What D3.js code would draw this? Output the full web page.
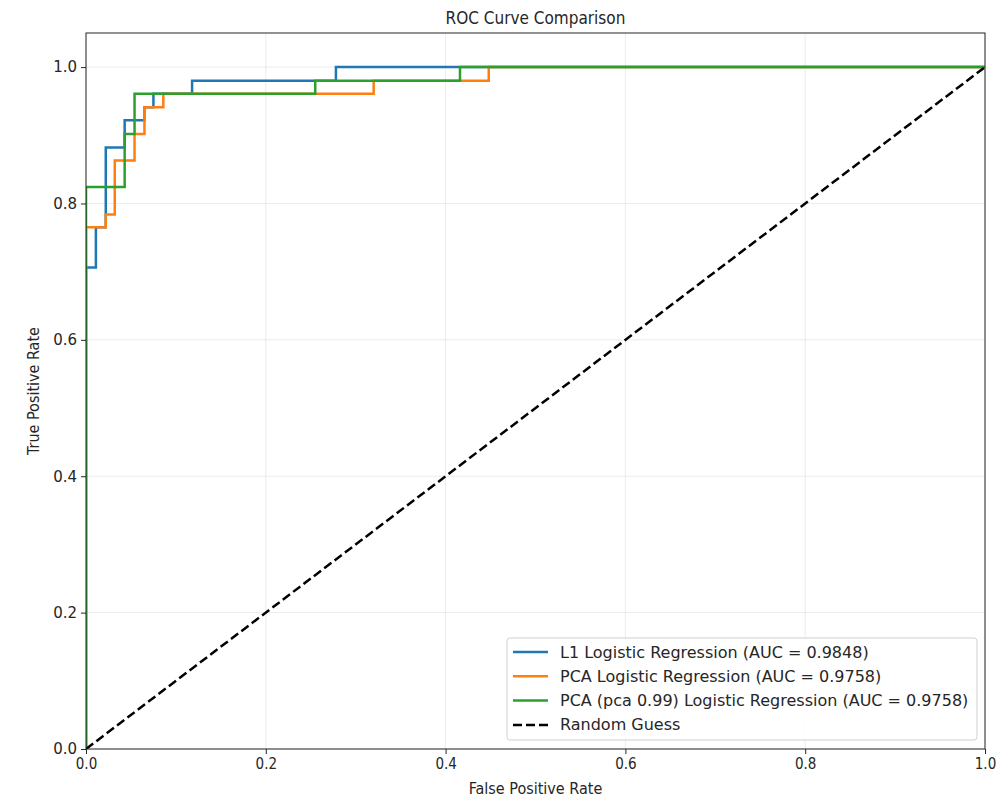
<!DOCTYPE html>
<html>
<head>
<meta charset="utf-8">
<script src="https://cdn.jsdelivr.net/npm/d3@7"></script>
<style>
  body { margin: 0; background: #fff; }
  text { fill: #262626; }
</style>
</head>
<body>
<div id="chart"></div>
<script>
// ROC points (corner points of each step)
var l1Fpr  = [0, 0, 0.011, 0.011, 0.022, 0.022, 0.043, 0.043, 0.065, 0.065, 0.075, 0.075, 0.118, 0.118, 0.278, 0.278, 1];
var l1Tpr  = [0, 0.706, 0.706, 0.765, 0.765, 0.882, 0.882, 0.922, 0.922, 0.941, 0.941, 0.961, 0.961, 0.980, 0.980, 1, 1];

var pcaFpr = [0, 0, 0.022, 0.022, 0.032, 0.032, 0.054, 0.054, 0.065, 0.065, 0.086, 0.086, 0.320, 0.320, 0.448, 0.448, 1];
var pcaTpr = [0, 0.765, 0.765, 0.784, 0.784, 0.863, 0.863, 0.902, 0.902, 0.941, 0.941, 0.961, 0.961, 0.980, 0.980, 1, 1];

var pca99Fpr = [0, 0, 0.043, 0.043, 0.054, 0.054, 0.255, 0.255, 0.416, 0.416, 1];
var pca99Tpr = [0, 0.824, 0.824, 0.902, 0.902, 0.961, 0.961, 0.980, 0.980, 1, 1];

var guessFpr = [0, 1];
var guessTpr = [0, 1];

var seriesNames = ["L1 Logistic Regression (AUC = 0.9848)",
                   "PCA Logistic Regression (AUC = 0.9758)",
                   "PCA (pca 0.99) Logistic Regression (AUC = 0.9758)",
                   "Random Guess"];
var seriesColors = ["#1f77b4", "#ff7f0e", "#2ca02c", "#000000"];
var tickValues = [0, 0.2, 0.4, 0.6, 0.8, 1.0];

var W = 1002, H = 798;
var mLeft = 86, mRight = 985, mTop = 33, mBottom = 749;

var svg = d3.select("#chart").append("svg")
    .attr("width", W)
    .attr("height", H);

var x = d3.scaleLinear().domain([0, 1]).range([mLeft, mRight]);
var y = d3.scaleLinear().domain([0, 1.05]).range([mBottom, mTop]);

// grid
var grid = svg.append("g");
tickValues.forEach(function(t){
  grid.append("line")
      .attr("x1", x(t)).attr("x2", x(t))
      .attr("y1", mTop).attr("y2", mBottom)
      .attr("stroke", "#b0b0b0").attr("stroke-opacity", 0.3).attr("stroke-width", 0.8);
  grid.append("line")
      .attr("x1", mLeft).attr("x2", mRight)
      .attr("y1", y(t)).attr("y2", y(t))
      .attr("stroke", "#b0b0b0").attr("stroke-opacity", 0.3).attr("stroke-width", 0.8);
});

svg.append("clipPath").attr("id", "plotclip")
  .append("rect").attr("x", mLeft).attr("y", mTop).attr("width", mRight - mLeft).attr("height", mBottom - mTop);

var line = d3.line().x(function(d){ return x(d[0]); }).y(function(d){ return y(d[1]); });
function pairs(a, b){ return a.map(function(v, i){ return [v, b[i]]; }); }

var curves = [pairs(l1Fpr, l1Tpr), pairs(pcaFpr, pcaTpr), pairs(pca99Fpr, pca99Tpr)];
var plot = svg.append("g").attr("clip-path", "url(#plotclip)");

curves.forEach(function(c, i){
  plot.append("path")
      .attr("d", line(c))
      .attr("fill", "none")
      .attr("stroke", seriesColors[i])
      .attr("stroke-width", 2.5)
      .attr("stroke-linejoin", "miter");
});

plot.append("path")
    .attr("d", line(pairs(guessFpr, guessTpr)))
    .attr("fill", "none")
    .attr("stroke", "#000")
    .attr("stroke-width", 2.5)
    .attr("stroke-dasharray", "9,4");

// axes
var xAxis = d3.axisBottom(x).tickValues(tickValues).tickFormat(d3.format(".1f")).tickSize(5).tickPadding(4);
var yAxis = d3.axisLeft(y).tickValues(tickValues).tickFormat(d3.format(".1f")).tickSize(5).tickPadding(4);

var gx = svg.append("g").attr("transform", "translate(0," + mBottom + ")").call(xAxis);
var gy = svg.append("g").attr("transform", "translate(" + mLeft + ",0)").call(yAxis);
[gx, gy].forEach(function(g){
  g.select(".domain").remove();
  g.selectAll(".tick line").attr("stroke", "#262626").attr("stroke-width", 1);
  g.selectAll("text").attr("fill", "#262626");
});
gx.selectAll("text")
  .style("font-family", "DejaVu Sans Condensed, DejaVu Sans, sans-serif")
  .style("font-size", "15px");
gy.selectAll("text")
  .style("font-family", "DejaVu Sans, sans-serif")
  .style("font-size", "15px");

// frame
svg.append("rect")
    .attr("x", mLeft).attr("y", mTop)
    .attr("width", mRight - mLeft).attr("height", mBottom - mTop)
    .attr("fill", "none").attr("stroke", "#262626").attr("stroke-width", 1);

// titles
svg.append("text")
    .attr("x", (mLeft + mRight) / 2).attr("y", 24)
    .attr("text-anchor", "middle")
    .style("font-family", "DejaVu Sans Condensed, DejaVu Sans, sans-serif")
    .style("font-size", "17px")
    .text("ROC Curve Comparison");

svg.append("text")
    .attr("x", (mLeft + mRight) / 2).attr("y", 794)
    .attr("text-anchor", "middle")
    .style("font-family", "DejaVu Sans Condensed, DejaVu Sans, sans-serif")
    .style("font-size", "16px")
    .text("False Positive Rate");

svg.append("text")
    .attr("transform", "translate(39," + ((mTop + mBottom) / 2) + ") rotate(-90)")
    .attr("text-anchor", "middle")
    .style("font-family", "DejaVu Sans Condensed, DejaVu Sans, sans-serif")
    .style("font-size", "16px")
    .text("True Positive Rate");

// legend
var lg = svg.append("g").attr("transform", "translate(507,638)");
lg.append("rect")
    .attr("width", 470).attr("height", 102)
    .attr("rx", 3)
    .attr("fill", "#fff").attr("fill-opacity", 0.8)
    .attr("stroke", "#d0d0d0").attr("stroke-width", 1);

seriesNames.forEach(function(name, i){
  var yy = 14 + i * 24.3;
  lg.append("line")
      .attr("x1", 6).attr("x2", 41)
      .attr("y1", yy).attr("y2", yy)
      .attr("stroke", seriesColors[i])
      .attr("stroke-width", 2.5)
      .attr("stroke-dasharray", i === 3 ? "9,4" : null);
  lg.append("text")
      .attr("x", 53).attr("y", yy + 5.5)
      .style("font-family", "DejaVu Sans, sans-serif")
      .style("font-size", "16px")
      .text(name);
});
</script>
</body>
</html>
